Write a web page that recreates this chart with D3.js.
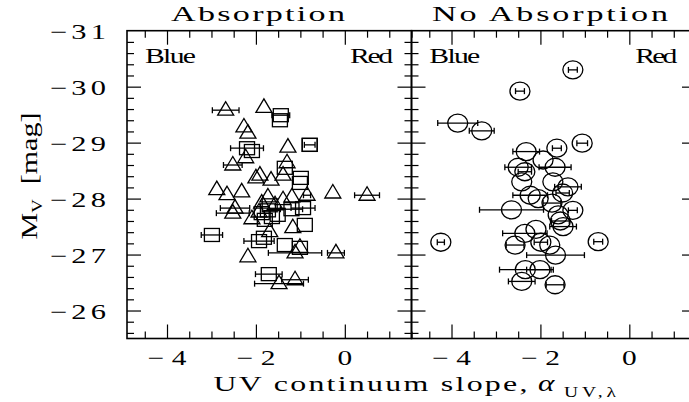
<!DOCTYPE html>
<html><head><meta charset="utf-8">
<script src="https://cdn.jsdelivr.net/npm/d3@7"></script>
<style>
body{margin:0;background:#fff}
svg{display:block}
text{font-family:"Liberation Serif","DejaVu Serif",serif;fill:#000}
</style>
</head><body><svg id="c" width="689" height="402"></svg>
<script>
// ---- data ----
// Absorption panel: triangles
const triX   = [-2.68,-1.82,-2.27,-2.18,-1.28,-2.23,-2.52,-1.30,-1.91,-2.00,-1.66,-1.39,-2.88,-2.65,-2.32,-0.27,0.50,-0.85,-1.19,-2.47,-2.52,-2.09,-1.17,-1.12,-0.20,-2.18,-1.48,-1.12,-1.01,-1.87,-1.73,-1.57,-1.93,-1.69,-1.39];
const triY   = [-29.58,-29.63,-29.28,-29.17,-28.92,-28.73,-28.60,-28.64,-28.42,-28.37,-28.33,-28.42,-28.16,-28.07,-28.12,-28.10,-28.06,-28.06,-28.03,-27.83,-27.74,-27.64,-27.48,-27.03,-27.03,-26.96,-26.48,-26.55,-27.13,-27.92,-28.03,-27.89,-27.76,-27.41,-27.98];
const triErr = [0.30,0,0,0,0,0,0.21,0,0,0,0,0,0,0,0,0,0.28,0.08,0,0.33,0.37,0,0,0.60,0.19,0,0.55,0.30,0,0,0,0,0,0,0];
// Absorption panel: squares
const sqX   = [-1.44,-1.46,-2.20,-2.09,-0.79,-0.79,-1.35,-0.99,-1.01,-0.94,-1.20,-0.90,-2.99,-1.93,-1.82,-1.35,-1.01,-1.71,-1.87,-1.73,-1.64,-1.80,-1.51,-1.69];
const sqY   = [-29.49,-29.40,-28.90,-28.85,-28.96,-28.96,-28.55,-28.37,-28.28,-27.83,-27.81,-27.53,-27.35,-27.24,-27.30,-27.17,-27.12,-26.65,-27.74,-27.79,-27.67,-27.62,-27.71,-27.88];
const sqErr = [0.20,0,0.37,0,0.12,0,0,0,0,0.27,0.25,0,0.24,0.34,0,0,0,0.30,0,0,0,0,0,0];
// No Absorption panel: circles
const cirX   = [-1.27,-2.46,-3.86,-3.32,-1.06,-2.32,-1.63,-1.94,-2.50,-2.35,-1.67,-2.42,-1.72,-1.38,-2.23,-1.74,-2.65,-1.27,-1.60,-1.49,-2.35,-1.99,-2.57,-1.79,-4.24,-0.70,-1.66,-2.34,-2.01,-2.42,-1.67,-1.50,-2.05,-1.55,-2.10];
const cirY   = [-30.30,-29.92,-29.35,-29.21,-28.99,-28.84,-28.90,-28.69,-28.56,-28.48,-28.56,-28.30,-28.30,-28.21,-28.06,-27.92,-27.80,-27.79,-27.71,-27.50,-27.38,-27.22,-27.17,-27.17,-27.22,-27.23,-26.99,-26.73,-26.73,-26.52,-26.46,-28.10,-28.00,-27.60,-27.45];
const cirErr = [0.10,0.10,0.45,0.28,0.12,0.30,0.10,0,0.30,0.15,0.36,0,0,0.30,0.39,0.20,0.72,0.10,0,0.30,0.50,0.15,0.20,0,0.08,0.10,0.65,0.58,0.30,0.30,0.20,0.15,0,0.20,0];

const panelTitles = ["Absorption","No Absorption"];
const sideLabels = ["Blue","Red"];
const xTickLabels = [-4,-2,0];
const yTickLabels = [-31,-30,-29,-28,-27,-26];
const xDomain = [-4.9,1.5];
const yDomain = [-31,-25.5];

// ---- drawing ----
const svg = d3.select('#c');
svg.append('rect').attr('width',689).attr('height',402).attr('fill','#fff');
const T = 30.7, B = 338.5;
const panels = [{x0:127,x1:411.5},{x0:411.5,x1:696}];
const y = d3.scaleLinear().domain(yDomain).range([T,B]);
panels.forEach(p => p.x = d3.scaleLinear().domain(xDomain).range([p.x0,p.x1]));

const isMult = (v,m) => Math.abs(v/m - Math.round(v/m)) < 1e-6;
const xAll = d3.range(0,13).map(i => +(-4.5 + i*0.5).toFixed(2));
const xMinor = xAll.filter(v => !isMult(v,2));
const xMajor = xAll.filter(v => isMult(v,2));
const yAll = d3.range(0,27).map(i => +(-30.8 + i*0.2).toFixed(2));
const yMinor = yAll.filter(v => !isMult(v,1));
const yMajor = yAll.filter(v => isMult(v,1));

function ticks(p){
  const g = svg.append('g').attr('class','ax');
  const defs = [
    [d3.axisBottom(p.x), `translate(0,${B})`, xMinor, xMajor],
    [d3.axisTop(p.x), `translate(0,${T})`, xMinor, xMajor],
    [d3.axisLeft(y), `translate(${p.x0},0)`, yMinor, yMajor],
    [d3.axisRight(y), `translate(${p.x1},0)`, yMinor, yMajor]
  ];
  defs.forEach(([ax,tr,mn,mj]) => {
    g.append('g').attr('transform',tr)
      .call(ax.tickValues(mn).tickSize(-7).tickFormat(''))
      .call(s => s.select('.domain').remove());
    g.append('g').attr('transform',tr)
      .call(ax.tickValues(mj).tickSize(-14).tickFormat(''))
      .call(s => s.select('.domain').remove());
  });
  g.selectAll('line').attr('stroke','#000').attr('stroke-width',1.2);
  svg.append('rect').attr('x',p.x0).attr('y',T).attr('width',p.x1-p.x0).attr('height',B-T)
    .attr('fill','none').attr('stroke','#000').attr('stroke-width',1.6);
}
panels.forEach(ticks);

function errBars(g, xs, ys, es, sx){
  xs.forEach((v,i) => {
    const e = es[i]; if(!e) return;
    const yy = y(ys[i]), a = sx(v-e), b = sx(v+e);
    g.append('line').attr('x1',a).attr('x2',b).attr('y1',yy).attr('y2',yy);
    g.append('line').attr('x1',a).attr('x2',a).attr('y1',yy-3).attr('y2',yy+3);
    g.append('line').attr('x1',b).attr('x2',b).attr('y1',yy-3).attr('y2',yy+3);
  });
}
const mk = svg.append('g').attr('fill','none').attr('stroke','#000').attr('stroke-width',1.3);
const L = panels[0].x, R = panels[1].x;
// triangles
mk.selectAll('path.tri').data(triX).join('path').attr('class','tri')
  .attr('d',(v,i) => `M${L(v)},${y(triY[i])-8.5}L${L(v)-8},${y(triY[i])+5}L${L(v)+8},${y(triY[i])+5}Z`);
errBars(mk, triX, triY, triErr, L);
// squares
mk.selectAll('rect.sq').data(sqX).join('rect').attr('class','sq')
  .attr('x',v => L(v)-7.5).attr('y',(v,i) => y(sqY[i])-6.5).attr('width',15).attr('height',13);
errBars(mk, sqX, sqY, sqErr, L);
// circles
mk.selectAll('ellipse.ci').data(cirX).join('ellipse').attr('class','ci')
  .attr('cx',v => R(v)).attr('cy',(v,i) => y(cirY[i])).attr('rx',10).attr('ry',9);
errBars(mk, cirX, cirY, cirErr, R);

// ---- text ----
function label(x, yy, s, o={}){
  const size=o.size||21, anchor=o.anchor||'middle', sx=o.sx||1.5, rot=o.rot||0;
  const t = svg.append('g').attr('transform',`translate(${x},${yy}) rotate(${rot}) scale(${sx},1)`)
    .append('text').attr('font-size',size).attr('text-anchor',anchor).text(s);
  if(o.w) t.attr('textLength',o.w/sx).attr('lengthAdjust','spacing');
  if(o.italic) t.attr('font-style','italic');
  return t;
}
const fmt = v => v < 0 ? '\u2212' + Math.abs(v) : String(v);

label(258, 21, panelTitles[0], {size:22, w:174, sx:1.55});
label(550, 21, panelTitles[1], {size:22, w:236, sx:1.55});
label(145, 63, sideLabels[0], {size:22, anchor:'start', w:51, sx:1.35});
label(393, 63, sideLabels[1], {size:22, anchor:'end', w:43, sx:1.35});
label(429.3, 63, sideLabels[0], {size:22, anchor:'start', w:51, sx:1.35});
label(677.3, 63, sideLabels[1], {size:22, anchor:'end', w:42, sx:1.35});

yTickLabels.forEach(v => label(106, y(v)+8, fmt(v), {anchor:'end', w:56, sx:1.45}));
panels.forEach(p => xTickLabels.forEach(v => {
  const s = fmt(v);
  label(p.x(v), 365, s, s.length>1 ? {w:39, sx:1.4} : {sx:1.4});
}));

label(213.5, 391, 'UV continuum slope,', {size:22, anchor:'start', w:314, sx:1.45});
label(538, 391, '\u03b1', {size:24, anchor:'start', sx:1.3, italic:true});
label(564, 397, 'UV,\u03bb', {size:15, anchor:'start', w:52, sx:1.3});

// y title
const yt = svg.append('g').attr('transform','translate(37,176) rotate(-90) scale(1.25,1)')
  .append('text').attr('text-anchor','middle').attr('font-size',24);
yt.append('tspan').text('M');
yt.append('tspan').attr('font-size',15).attr('dy',5).text('V');
yt.append('tspan').attr('dy',-5).text('\u2002[mag]');
</script>
</body></html>
